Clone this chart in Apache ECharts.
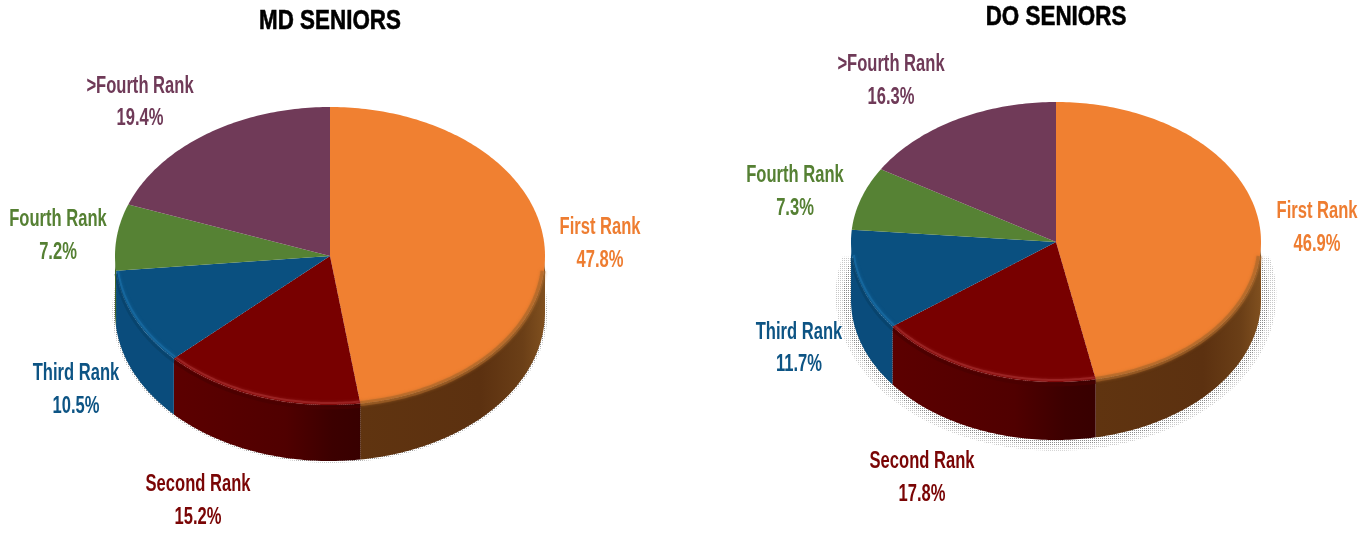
<!DOCTYPE html>
<html>
<head>
<meta charset="utf-8">
<style>html,body{margin:0;padding:0;background:#fff}#c{width:1369px;height:533px}</style>
<script src="https://cdn.jsdelivr.net/npm/echarts@6/dist/echarts.min.js"></script>
</head>
<body>
<div id="c"></div>
<script>
const categories = ['First Rank', 'Second Rank', 'Third Rank', 'Fourth Rank', '>Fourth Rank'];
const mdValues = [47.8, 15.2, 10.5, 7.2, 19.4];
const doValues = [46.9, 17.8, 11.7, 7.3, 16.3];
const titles = ['MD SENIORS', 'DO SENIORS'];

const faceColors = ['#f08031', '#780000', '#0a5080', '#568234', '#703a58'];
const labelColors = ['#ee7d31', '#7a0505', '#0d5484', '#558033', '#6f3a58'];
const rimColors = ['#a8662a', '#a83030', '#1a6fa8', '#568234', '#703a58'];
const wallStops = [
  [[0, '#80501f'], [0.12, '#6b3f17'], [0.35, '#5c3110'], [1, '#603410']],
  [[0, '#5c0000'], [0.6, '#500000'], [0.85, '#3c0000'], [1, '#380000']],
  [[0, '#0a4c7c'], [1, '#0a4c7c']],
  [[0, '#3f6226'], [1, '#3f6226']],
  [[0, '#522a40'], [1, '#522a40']]
];
const charts = [
  { values: mdValues, cx: 330, cy: 256, rx: 215, ry: 149, depth: 56, halo: 2,
    labels: [[600, 228, 261], [198, 485, 518], [76, 374, 407], [58, 220, 253], [140, 87, 119]] },
  { values: doValues, cx: 1056, cy: 242, rx: 205, ry: 140, depth: 58, halo: 11,
    labels: [[1317, 212, 245], [922, 462, 495], [799, 333, 365], [795, 176, 209], [891, 65, 98]] }
];
const labelFont = '"Liberation Sans",sans-serif';

function dotPattern(color) {
  const c = document.createElement('canvas');
  c.width = 2; c.height = 2;
  const g = c.getContext('2d');
  g.fillStyle = color;
  g.fillRect(0, 0, 1, 1);
  return c;
}
const haloPatterns = [dotPattern('#8a8a8a'), dotPattern('#c8c8c8')];

function arcPoints(ch, a0, a1, dy, inset) {
  const n = Math.max(2, Math.ceil(Math.abs(a1 - a0) * 60));
  const pts = [];
  for (let i = 0; i <= n; i++) {
    const a = a0 + (a1 - a0) * i / n;
    pts.push([ch.cx + (ch.rx - inset) * Math.sin(a), ch.cy + dy - (ch.ry - inset) * Math.cos(a)]);
  }
  return pts;
}

function makeSeries(ch) {
  const total = ch.values.reduce((s, v) => s + v, 0);
  const starts = [];
  ch.values.reduce((s, v, i) => { starts[i] = s; return s + v; }, 0);
  return {
    type: 'custom',
    coordinateSystem: 'none',
    silent: true,
    animation: false,
    clip: false,
    data: ch.values.map((v, i) => ({ name: categories[i], value: [v, starts[i]] })),
    renderItem: function (params, api) {
      const i = params.dataIndex;
      const v = api.value(0), st = api.value(1);
      const a0 = st / total * 2 * Math.PI, a1 = (st + v) / total * 2 * Math.PI;
      const kids = [];
      if (i === 0 && ch.halo) {
        [[ch.halo * 1.4, 1], [ch.halo * 0.7, 0]].forEach(function (h) {
          const p = arcPoints(ch, Math.PI * 0.42, Math.PI * 1.58, ch.depth - h[0] * 0.3, -h[0]);
          kids.push({ type: 'polygon', shape: { points: p },
            style: { fill: { image: haloPatterns[h[1]], repeat: 'repeat' } } });
        });
      }
      const lo = Math.max(a0, Math.PI / 2), hi = Math.min(a1, Math.PI * 1.5);
      if (hi > lo) {
        const top = arcPoints(ch, lo, hi, 0, 0);
        const bot = arcPoints(ch, hi, lo, ch.depth, 0);
        kids.push({ type: 'polygon', shape: { points: top.concat(bot) },
          style: { fill: new echarts.graphic.LinearGradient(i === 0 ? 1 : 0, 0, i === 0 ? 0 : 1, 0,
            wallStops[i].map(s => ({ offset: s[0], color: s[1] }))) } });
      }
      const face = [[ch.cx, ch.cy]].concat(arcPoints(ch, a0, a1, 0, 0));
      kids.push({ type: 'polygon', shape: { points: face }, style: { fill: faceColors[i] } });
      const rimLo = Math.max(lo, Math.PI * 0.53), rimHi = Math.min(hi, Math.PI * 1.47);
      if (rimHi > rimLo) {
        if (i === 0) {
          kids.push({ type: 'polyline', shape: { points: arcPoints(ch, rimLo, hi, 1, 1) },
            style: { fill: null, stroke: '#a8662a', lineWidth: 5, opacity: 0.55,
              shadowBlur: 3, shadowColor: '#a8662a' } });
        } else if (i === 1 || i === 2) {
          kids.push({ type: 'polyline', shape: { points: arcPoints(ch, lo, rimHi, 0, 2) },
            style: { fill: null, stroke: rimColors[i], lineWidth: 2, opacity: 0.6,
              shadowBlur: 3, shadowColor: rimColors[i] } });
          kids.push({ type: 'polyline', shape: { points: arcPoints(ch, lo, rimHi, 3, 0) },
            style: { fill: null, stroke: i === 1 ? '#480000' : '#084268', lineWidth: 3, opacity: 0.7 } });
        }
      }
      const l = ch.labels[i];
      [[categories[i], l[1]], [v.toFixed(1) + '%', l[2]]].forEach(function (t) {
        kids.push({ type: 'text', x: l[0], y: t[1], scaleX: 0.72,
          style: { text: t[0], fill: labelColors[i], font: 'bold 23px ' + labelFont,
            align: 'center', verticalAlign: 'middle' } });
      });
      return { type: 'group', children: kids };
    }
  };
}

function titleElement(text, x, y) {
  return { type: 'text', x: x, y: y, scaleX: 0.8,
    style: { text: text, fill: '#000', font: 'bold 28px ' + labelFont,
      align: 'center', verticalAlign: 'middle', stroke: '#000', lineWidth: 0.6 } };
}

const chart = echarts.init(document.getElementById('c'), null, { renderer: 'canvas' });
chart.setOption({
  animation: false,
  backgroundColor: '#fff',
  graphic: [titleElement(titles[0], 330, 21), titleElement(titles[1], 1056, 17)],
  series: charts.map(makeSeries)
});
</script>
</body>
</html>
